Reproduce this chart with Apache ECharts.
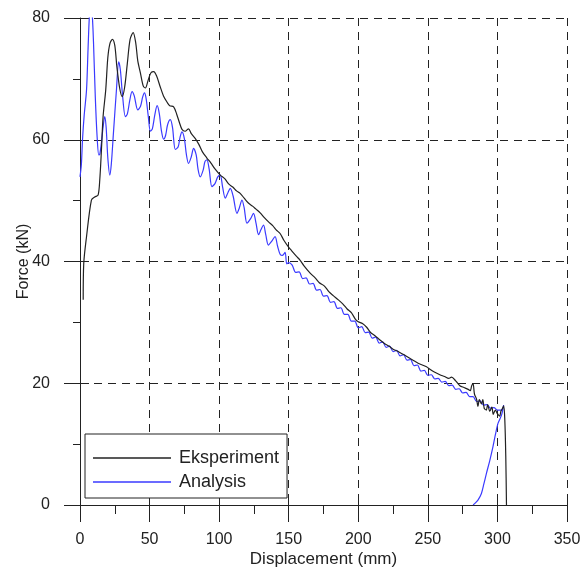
<!DOCTYPE html>
<html>
<head>
<meta charset="utf-8">
<script src="https://cdn.jsdelivr.net/npm/echarts@6/dist/echarts.min.js"></script>
<style>
  html, body { margin: 0; padding: 0; background: #fff; }
  #chart { width: 588px; height: 572px; }
</style>
</head>
<body>
<div id="chart"></div>
<script>
// Force–displacement response: test vs. simulation
const xTicks = [0, 50, 100, 150, 200, 250, 300, 350];
const yTicks = [0, 20, 40, 60, 80];

// Measured curve [displacement mm, force kN]
const eksperiment = [
  [2.3,33.7],[2.7,39.7],[4.7,44.1],[8.2,50.1],[10.6,50.6],[13.0,50.9],[14.2,53.4],[15.4,58.3],
  [16.6,63.8],[18.5,68.2],[20.0,73.5],[21.5,75.8],[23.3,76.5],[25.0,75.5],[26.5,72.0],[28.5,68.5],
  [30.3,67.1],[32.0,68.5],[34.0,72.5],[36.0,76.5],[38.2,77.6],[40.0,76.0],[41.5,73.0],[43.4,71.0],
  [45.5,68.8],[47.0,68.5],[49.0,69.8],[51.0,71.0],[53.0,71.2],[55.0,70.5],[57.5,68.8],[60.0,67.2],
  [62.5,66.2],[64.5,65.6],[67.3,65.4],[69.5,64.2],[71.5,62.8],[73.3,61.7],[75.5,61.4],[78.0,61.8],
  [80.0,61.0],[82.9,60.2],[85.5,59.2],[88.0,58.0],[91.2,57.0],[94.0,56.2],[97.0,55.2],[100.8,54.2],
  [104.0,53.6],[107.0,52.7],[110.0,52.2],[112.5,51.6],[115.1,51.2],[118.0,50.4],[121.0,49.6],[124.0,49.1],
  [126.5,48.6],[129.5,48.0],[132.5,47.2],[135.5,46.5],[138.5,45.9],[141.0,45.2],[143.8,44.6],[146.5,43.5],
  [149.8,42.4],[152.0,41.8],[155.8,40.8],[158.2,40.2],[161.0,39.3],[165.4,38.1],[169.0,37.3],[172.0,36.5],
  [175.5,36.0],[179.0,35.0],[182.0,34.4],[185.7,33.7],[189.0,33.0],[192.0,32.2],[195.0,31.6],[198.0,30.5],
  [200.0,30.1],[203.0,29.8],[206.0,29.2],[209.0,28.3],[212.0,27.8],[215.6,27.1],[219.0,26.5],[222.0,26.1],
  [225.0,25.6],[228.0,25.3],[231.0,24.9],[233.5,24.6],[237.0,24.1],[240.0,23.7],[243.0,23.3],[246.0,23.0],
  [249.0,22.7],[252.0,22.2],[255.0,21.8],[258.6,21.4],[262.0,21.1],[265.0,20.8],[267.0,21.0],[270.0,20.4],
  [273.0,19.6],[276.0,19.3],[279.0,19.0],[280.5,18.8],[281.5,19.6],[282.5,19.9],[283.5,18.2],[285.0,17.4],
  [286.0,16.2],[287.0,17.3],[288.5,16.6],[289.5,17.3],[290.5,15.9],[292.0,15.6],[293.0,16.5],[294.5,15.4],
  [296.0,16.1],[297.0,14.9],[298.5,15.6],[300.0,15.0],[301.6,14.6],[302.5,15.4],[303.5,15.8],[304.5,16.3],
  [305.3,14.0],[306.0,8.0],[306.5,0.0]
];

// Simulated curve [displacement mm, force kN], including unloading branch
const analysis = [
  [0.0,53.9],[1.0,56.0],[1.8,60.0],[3.0,64.0],[4.7,68.2],[5.8,75.0],[6.8,80.5],[7.8,82.0],
  [8.8,80.5],[9.7,76.0],[11.0,67.0],[12.3,60.5],[13.5,57.5],[14.2,57.6],[15.4,59.5],[16.6,62.1],
  [17.8,63.8],[18.8,62.0],[20.0,57.0],[21.4,54.2],[22.5,56.0],[24.0,61.0],[26.2,68.2],[27.8,72.8],
  [29.0,71.5],[30.5,67.5],[32.6,63.8],[34.0,64.2],[35.8,66.5],[37.4,67.9],[39.0,67.2],[41.5,64.9],
  [43.5,65.5],[45.0,67.0],[46.3,67.7],[47.5,66.8],[49.0,64.0],[50.6,61.4],[52.0,61.8],[53.7,64.0],
  [55.4,65.6],[57.0,64.3],[58.5,61.5],[60.1,60.1],[61.5,60.7],[63.0,62.5],[64.9,63.3],[66.5,62.0],
  [68.5,58.4],[70.5,58.8],[72.0,60.5],[73.3,61.3],[75.0,60.2],[76.5,57.5],[78.0,56.1],[80.0,57.2],
  [81.6,58.6],[83.5,57.5],[84.8,55.2],[86.4,53.9],[88.5,55.0],[89.8,56.4],[91.2,56.7],[92.8,55.2],
  [94.8,52.3],[97.0,52.8],[99.0,53.9],[100.8,54.2],[102.5,52.2],[104.4,50.4],[106.3,51.3],[108.0,52.0],
  [110.0,50.8],[112.8,47.9],[114.5,48.8],[116.4,50.1],[118.0,48.8],[120.0,46.3],[122.5,47.0],[124.7,47.9],
  [126.5,46.3],[128.3,44.4],[130.0,45.2],[131.9,46.0],[133.5,44.4],[135.4,42.7],[137.7,43.3],[140.2,44.1],
  [142.0,42.5],[143.8,41.2],[145.5,41.0],[147.4,41.5],[148.6,39.6],[150.0,39.8],[152.5,39.4],[155.0,38.2],
  [157.5,38.3],[160.0,37.2],[162.5,37.3],[165.0,36.3],[167.5,36.4],[170.0,35.3],[172.5,35.4],[175.0,34.3],
  [177.5,34.4],[180.0,33.3],[182.5,33.4],[185.0,32.3],[187.5,32.4],[190.0,31.3],[192.5,31.3],[195.0,30.2],
  [197.5,30.2],[200.0,29.1],[202.5,29.3],[205.0,28.3],[207.5,28.4],[210.0,27.4],[212.5,27.6],[215.0,26.6],
  [217.5,26.8],[220.0,25.9],[222.5,26.1],[225.0,25.2],[227.5,25.4],[230.0,24.5],[232.5,24.7],[235.0,23.8],
  [237.5,23.9],[240.0,22.9],[242.5,23.0],[245.0,22.0],[247.5,22.1],[250.0,21.3],[252.5,21.4],[255.0,20.7],
  [257.5,20.8],[260.0,20.2],[262.5,20.3],[265.0,19.6],[267.5,19.7],[270.0,19.0],[272.5,19.1],[275.0,18.4],
  [277.5,18.5],[280.0,17.8],[282.5,17.8],[285.0,17.0],[287.5,17.1],[290.0,16.4],[292.5,16.5],[295.0,15.9],
  [297.5,16.0],[300.0,15.6],[302.9,15.6],[304.5,16.4],[303.0,14.8],[300.4,13.4],[298.5,11.5],[296.8,9.6],
  [294.5,7.3],[292.1,5.2],[290.3,3.5],[288.5,1.9],[286.0,0.8],[284.0,0.3],[282.5,0.0]
];

const FONT = '"Liberation Sans", Arial, sans-serif';
const INK = '#222';
const BLUE = '#3a3aff';

const xMin = xTicks[0], xMax = xTicks[xTicks.length - 1], xStep = xTicks[1] - xTicks[0];
const yMin = yTicks[0], yMax = yTicks[yTicks.length - 1], yStep = yTicks[1] - yTicks[0];

const chart = echarts.init(document.getElementById('chart'), null, { renderer: 'canvas' });

chart.setOption({
  animation: false,
  backgroundColor: '#fff',
  grid: { left: 80, top: 18, width: 487, height: 487, containLabel: false, outerBoundsMode: 'none' },
  legend: {
    data: [
      { name: 'Eksperiment', icon: 'rect', itemStyle: { color: INK } },
      { name: 'Analysis', icon: 'rect', itemStyle: { color: BLUE } }
    ],
    orient: 'vertical',
    left: 85,
    top: 434,
    padding: [15, 8, 7, 8],
    itemWidth: 78,
    itemHeight: 1.3,
    itemGap: 6,
    borderColor: INK,
    borderWidth: 1,
    backgroundColor: '#fff',
    textStyle: { fontFamily: FONT, fontSize: 18, color: INK, padding: [0, 0, 0, 3] }
  },
  xAxis: [
    {
      type: 'value', min: xMin, max: xMax, interval: xStep,
      name: 'Displacement (mm)', nameLocation: 'middle', nameGap: 46, nameMoveOverlap: false,
      nameTextStyle: { fontFamily: FONT, fontSize: 17, color: INK },
      axisLine: { show: true, lineStyle: { color: INK, width: 1 } },
      axisTick: { show: true, inside: false, length: 17, lineStyle: { color: INK } },
      minorTick: { show: true, splitNumber: 2, length: 9, lineStyle: { color: INK } },
      axisLabel: { margin: 27, fontFamily: FONT, fontSize: 16, color: INK },
      splitLine: { show: true, lineStyle: { color: INK, type: [8, 6], width: 1 } }
    },
    {
      // inward half of the major ticks
      type: 'value', min: xMin, max: xMax, interval: xStep, position: 'bottom', offset: 0,
      axisLine: { show: false },
      axisTick: { show: true, inside: true, length: 8, lineStyle: { color: INK } },
      axisLabel: { show: false },
      splitLine: { show: false }
    }
  ],
  yAxis: [
    {
      type: 'value', min: yMin, max: yMax, interval: yStep,
      name: 'Force (kN)', nameLocation: 'middle', nameGap: 48, nameMoveOverlap: false,
      nameTextStyle: { fontFamily: FONT, fontSize: 16, color: INK },
      axisLine: { show: true, lineStyle: { color: INK, width: 1 } },
      axisTick: { show: true, inside: false, length: 16, lineStyle: { color: INK } },
      minorTick: { show: true, splitNumber: 2, length: 7, lineStyle: { color: INK } },
      axisLabel: { margin: 30, fontFamily: FONT, fontSize: 16, color: INK },
      splitLine: { show: true, lineStyle: { color: INK, type: [8, 6], width: 1 } }
    },
    {
      type: 'value', min: yMin, max: yMax, interval: yStep, position: 'left', offset: 0,
      axisLine: { show: false },
      axisTick: { show: true, inside: true, length: 9, lineStyle: { color: INK } },
      axisLabel: { show: false },
      splitLine: { show: false }
    }
  ],
  series: [
    {
      name: 'Analysis', type: 'line', data: analysis,
      xAxisIndex: 0, yAxisIndex: 0,
      symbol: 'none', smooth: 0.3, clip: true,
      lineStyle: { color: BLUE, width: 1.2 },
      itemStyle: { color: BLUE }
    },
    {
      name: 'Eksperiment', type: 'line', data: eksperiment,
      xAxisIndex: 0, yAxisIndex: 0,
      symbol: 'none', smooth: 0.3, clip: true,
      lineStyle: { color: INK, width: 1.2 },
      itemStyle: { color: INK }
    }
  ]
});
</script>
</body>
</html>
